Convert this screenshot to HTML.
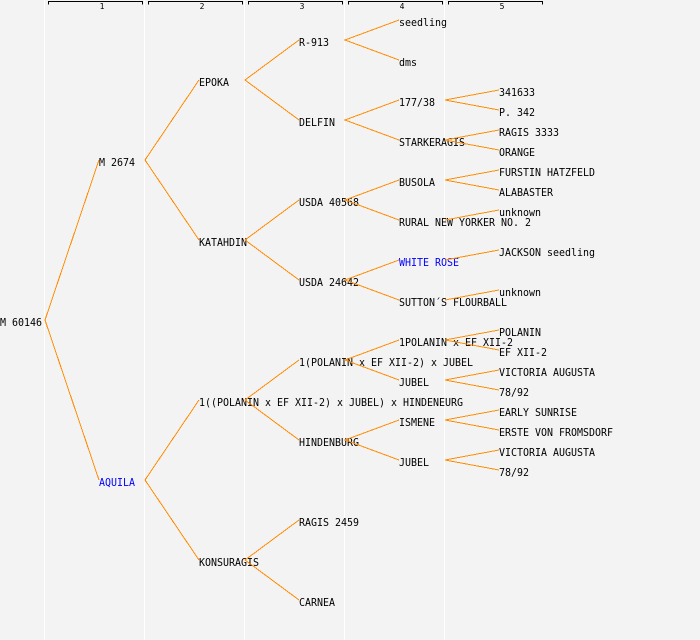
<!DOCTYPE html>
<html>
<head>
<meta charset="utf-8">
<style>
html,body{margin:0;padding:0;background:#f3f3f3;}
svg{display:block;}
text{font-family:"DejaVu Sans Mono","Liberation Mono",monospace;font-size:11px;fill:#000;}
.h{font-size:8px;}
.b{fill:#0000ff;}
</style>
</head>
<body>
<svg width="700" height="640" viewBox="0 0 700 640" xmlns="http://www.w3.org/2000/svg">
<rect width="700" height="640" fill="#f3f3f3"/>
<g stroke="#ffffff" stroke-width="1" shape-rendering="crispEdges">
<line x1="44.5" y1="0" x2="44.5" y2="640"/>
<line x1="144.5" y1="0" x2="144.5" y2="640"/>
<line x1="244.5" y1="0" x2="244.5" y2="640"/>
<line x1="344.5" y1="0" x2="344.5" y2="640"/>
<line x1="444.5" y1="0" x2="444.5" y2="640"/>
</g>
<g stroke="#000" stroke-width="1" fill="none" shape-rendering="crispEdges">
<path d="M48.5 4.5V1.5H142.5V4.5"/>
<path d="M148.5 4.5V1.5H242.5V4.5"/>
<path d="M248.5 4.5V1.5H342.5V4.5"/>
<path d="M348.5 4.5V1.5H442.5V4.5"/>
<path d="M448.5 4.5V1.5H542.5V4.5"/>
</g>
<g>
<text class="h" x="102" y="9" text-anchor="middle">1</text>
<text class="h" x="202" y="9" text-anchor="middle">2</text>
<text class="h" x="302" y="9" text-anchor="middle">3</text>
<text class="h" x="402" y="9" text-anchor="middle">4</text>
<text class="h" x="502" y="9" text-anchor="middle">5</text>
</g>

<g>
<text x="0" y="326" textLength="42" lengthAdjust="spacingAndGlyphs">M 60146</text>

<text x="99" y="166" textLength="36" lengthAdjust="spacingAndGlyphs">M 2674</text>
<text x="99" y="486" textLength="36" lengthAdjust="spacingAndGlyphs" class="b">AQUILA</text>

<text x="199" y="86" textLength="30" lengthAdjust="spacingAndGlyphs">EPOKA</text>
<text x="199" y="246" textLength="48" lengthAdjust="spacingAndGlyphs">KATAHDIN</text>
<text x="199" y="406" textLength="264" lengthAdjust="spacingAndGlyphs">1((POLANIN x EF XII-2) x JUBEL) x HINDENEURG</text>
<text x="199" y="566" textLength="60" lengthAdjust="spacingAndGlyphs">KONSURAGIS</text>

<text x="299" y="46" textLength="30" lengthAdjust="spacingAndGlyphs">R-913</text>
<text x="299" y="126" textLength="36" lengthAdjust="spacingAndGlyphs">DELFIN</text>
<text x="299" y="206" textLength="60" lengthAdjust="spacingAndGlyphs">USDA 40568</text>
<text x="299" y="286" textLength="60" lengthAdjust="spacingAndGlyphs">USDA 24642</text>
<text x="299" y="366" textLength="174" lengthAdjust="spacingAndGlyphs">1(POLANIN x EF XII-2) x JUBEL</text>
<text x="299" y="446" textLength="60" lengthAdjust="spacingAndGlyphs">HINDENBURG</text>
<text x="299" y="526" textLength="60" lengthAdjust="spacingAndGlyphs">RAGIS 2459</text>
<text x="299" y="606" textLength="36" lengthAdjust="spacingAndGlyphs">CARNEA</text>

<text x="399" y="26" textLength="48" lengthAdjust="spacingAndGlyphs">seedling</text>
<text x="399" y="66" textLength="18" lengthAdjust="spacingAndGlyphs">dms</text>
<text x="399" y="106" textLength="36" lengthAdjust="spacingAndGlyphs">177/38</text>
<text x="399" y="146" textLength="66" lengthAdjust="spacingAndGlyphs">STARKERAGIS</text>
<text x="399" y="186" textLength="36" lengthAdjust="spacingAndGlyphs">BUSOLA</text>
<text x="399" y="226" textLength="132" lengthAdjust="spacingAndGlyphs">RURAL NEW YORKER NO. 2</text>
<text x="399" y="266" textLength="60" lengthAdjust="spacingAndGlyphs" class="b">WHITE ROSE</text>
<text x="399" y="306" textLength="108" lengthAdjust="spacingAndGlyphs">SUTTON´S FLOURBALL</text>
<text x="399" y="346" textLength="114" lengthAdjust="spacingAndGlyphs">1POLANIN x EF XII-2</text>
<text x="399" y="386" textLength="30" lengthAdjust="spacingAndGlyphs">JUBEL</text>
<text x="399" y="426" textLength="36" lengthAdjust="spacingAndGlyphs">ISMENE</text>
<text x="399" y="466" textLength="30" lengthAdjust="spacingAndGlyphs">JUBEL</text>

<text x="499" y="96" textLength="36" lengthAdjust="spacingAndGlyphs">341633</text>
<text x="499" y="116" textLength="36" lengthAdjust="spacingAndGlyphs">P. 342</text>
<text x="499" y="136" textLength="60" lengthAdjust="spacingAndGlyphs">RAGIS 3333</text>
<text x="499" y="156" textLength="36" lengthAdjust="spacingAndGlyphs">ORANGE</text>
<text x="499" y="176" textLength="96" lengthAdjust="spacingAndGlyphs">FURSTIN HATZFELD</text>
<text x="499" y="196" textLength="54" lengthAdjust="spacingAndGlyphs">ALABASTER</text>
<text x="499" y="216" textLength="42" lengthAdjust="spacingAndGlyphs">unknown</text>
<text x="499" y="256" textLength="96" lengthAdjust="spacingAndGlyphs">JACKSON seedling</text>
<text x="499" y="296" textLength="42" lengthAdjust="spacingAndGlyphs">unknown</text>
<text x="499" y="336" textLength="42" lengthAdjust="spacingAndGlyphs">POLANIN</text>
<text x="499" y="356" textLength="48" lengthAdjust="spacingAndGlyphs">EF XII-2</text>
<text x="499" y="376" textLength="96" lengthAdjust="spacingAndGlyphs">VICTORIA AUGUSTA</text>
<text x="499" y="396" textLength="30" lengthAdjust="spacingAndGlyphs">78/92</text>
<text x="499" y="416" textLength="78" lengthAdjust="spacingAndGlyphs">EARLY SUNRISE</text>
<text x="499" y="436" textLength="114" lengthAdjust="spacingAndGlyphs">ERSTE VON FROMSDORF</text>
<text x="499" y="456" textLength="96" lengthAdjust="spacingAndGlyphs">VICTORIA AUGUSTA</text>
<text x="499" y="476" textLength="30" lengthAdjust="spacingAndGlyphs">78/92</text>
</g>

<g stroke="#ff8c00" stroke-width="1" fill="none" shape-rendering="crispEdges">
<path d="M99 160L45 320L99 480"/>
<path d="M199 80L145 160L199 240"/>
<path d="M199 400L145 480L199 560"/>
<path d="M299 40L245 80L299 120"/>
<path d="M299 200L245 240L299 280"/>
<path d="M299 360L245 400L299 440"/>
<path d="M299 520L245 560L299 600"/>
<path d="M399 20L345 40L399 60"/>
<path d="M399 100L345 120L399 140"/>
<path d="M399 180L345 200L399 220"/>
<path d="M399 260L345 280L399 300"/>
<path d="M399 340L345 360L399 380"/>
<path d="M399 420L345 440L399 460"/>
<path d="M499 90L445 100L499 110"/>
<path d="M499 130L445 140L499 150"/>
<path d="M499 170L445 180L499 190"/>
<path d="M445 220L499 210"/>
<path d="M445 260L499 250"/>
<path d="M445 300L499 290"/>
<path d="M499 330L445 340L499 350"/>
<path d="M499 370L445 380L499 390"/>
<path d="M499 410L445 420L499 430"/>
<path d="M499 450L445 460L499 470"/>
</g>
</svg>
</body>
</html>
